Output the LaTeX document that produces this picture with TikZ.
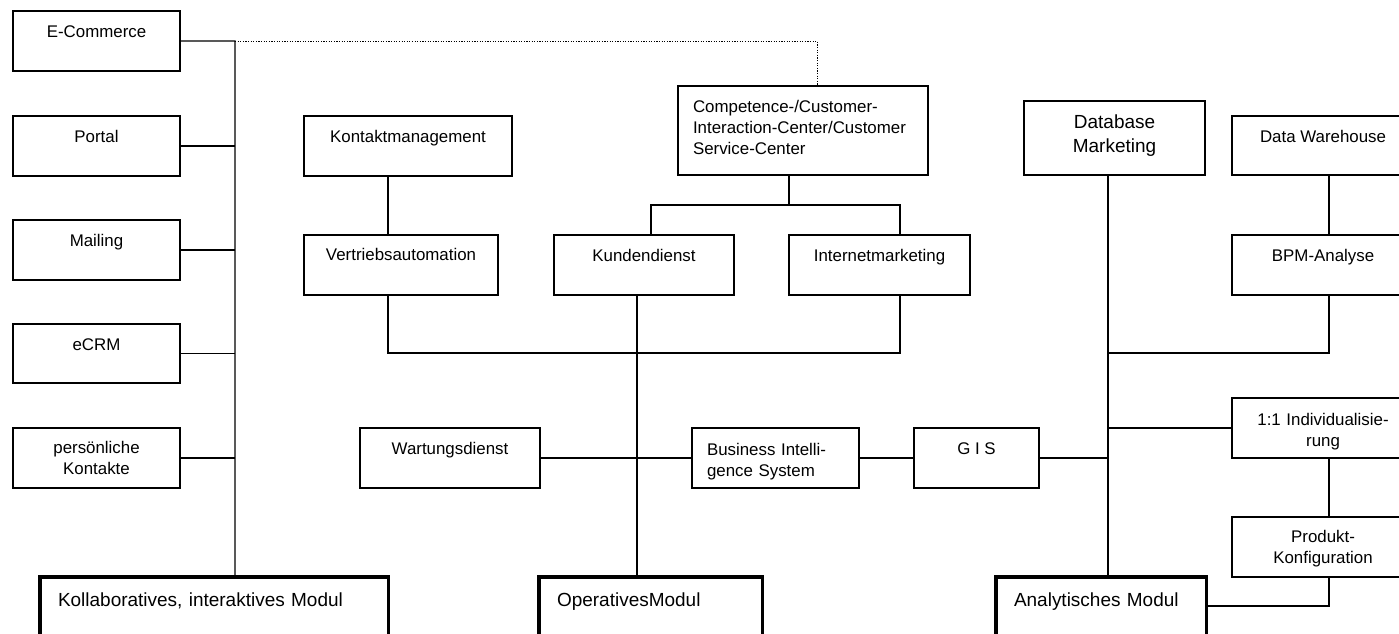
\documentclass[tikz,border=0pt]{standalone}
\usepackage{fontspec}
\setmainfont{Liberation Sans}
\usepackage{tikz}

\begin{document}
\begin{tikzpicture}[
    x=0.025cm, y=-0.025cm,
    box/.style={draw, line width=0.85pt, outer sep=0pt, inner xsep=0pt, inner ysep=0pt, anchor=north west,
        align=center, font=\fontsize{12}{15}\selectfont, text height=18.5pt, text depth=24.2pt},
    modul/.style={draw, line width=2.2pt, outer sep=0pt, inner xsep=0.45cm, inner ysep=0pt, anchor=north west,
        align=left, font=\fontsize{13.5}{17}\selectfont, text height=21.3pt, text depth=42.7pt},
    link/.style={line width=0.85pt}
]
    \useasboundingbox (0,0) rectangle (1399,633);
    \clip (0,0) rectangle (1399,633);

    % Left column
    \node[box, minimum width=4.175cm] (ecom) at (13,11) {E-Commerce};
    \node[box, minimum width=4.175cm] (portal) at (13,116) {Portal};
    \node[box, minimum width=4.175cm] (mailing) at (13,220) {Mailing};
    \node[box, minimum width=4.175cm, text depth=23.5pt] (ecrm) at (13,324) {eCRM};
    \node[box, text width=4.175cm, text height=17.8pt, text depth=24.9pt] (perskont) at (13,428) {persönliche\\Kontakte};

    % Middle part
    \node[box, minimum width=5.2cm] (kontakt) at (304,116) {Kontaktmanagement};
    \node[box, minimum width=4.85cm, text height=17.8pt, text depth=24.9pt] (vertrieb) at (304,235) {Vertriebsautomation};
    \node[box, align=left, inner xsep=0.375cm, text width=5.5cm, text depth=44.8pt] (ccc) at (678,86)
        {Competence-/Customer-\\Interaction-Center/Customer\\Service-Center};
    \node[box, minimum width=4.5cm] (kunden) at (554,235) {Kundendienst};
    \node[box, minimum width=4.525cm] (internet) at (789,235) {Internetmarketing};

    % Middle row
    \node[box, minimum width=4.5cm] (wartung) at (360,428) {Wartungsdienst};
    \node[box, align=left, inner xsep=0.375cm, text width=3.425cm, text height=19.2pt, text depth=23.5pt] (bis) at (692,428)
        {Business Intelli-\\gence System};
    \node[box, minimum width=3.125cm] (gis) at (914,428) {G I S};

    % Right part
    \node[box, text width=4.525cm, font=\fontsize{13.5}{17}\selectfont, text height=19.9pt, text depth=32.7pt] (dbm) at (1024,101) {Database\\Marketing};
    \node[box, minimum width=4.55cm, text depth=23.5pt] (dwh) at (1232,116) {Data Warehouse};
    \node[box, minimum width=4.55cm] (bpm) at (1232,235) {BPM-Analyse};
    \node[box, text width=4.55cm, text height=19.2pt, text depth=23.5pt] (indiv) at (1232,398) {1:1 Individualisie-\\rung};
    \node[box, text width=4.55cm, text height=17.8pt, text depth=24.9pt] (produkt) at (1232,517) {Produkt-\\Konfiguration};

    % Modules
    \node[modul, text width=7.8cm] (kollab) at (40,577) {Kollaboratives, interaktives Modul};
    \node[modul, text width=4.675cm] (operativ) at (539,577) {OperativesModul};
    \node[modul, text width=4.35cm] (analyt) at (996,577) {Analytisches Modul};

    % Junctions
    \coordinate (ltop) at (235,41);
    \coordinate (dtop) at (817,41);
    \coordinate (kv) at (388,353);
    \coordinate (iv) at (900,353);
    \coordinate (kd) at (651,205);
    \coordinate (cc) at (789,205);
    \coordinate (ot) at (637,353);
    \coordinate (rt) at (1108,353);
    \coordinate (rb) at (1329,353);
    \coordinate (pk) at (1329,606);

    % Left links
    \draw[link] (ecom.east) -- (ltop) -- (ltop |- kollab.north);
    \draw[link] (portal.east) -- (portal.east -| ltop);
    \draw[link] (mailing.east) -- (mailing.east -| ltop);
    \draw[link] (ecrm.east) -- (ecrm.east -| ltop);
    \draw[link] (perskont.east) -- (perskont.east -| ltop);
    \draw[link, densely dotted, line width=0.6pt] (ltop) -- (dtop) -- (dtop |- ccc.north);

    % Middle links
    \draw[link] (kontakt.south -| kv) -- (vertrieb.north -| kv);
    \draw[link] (vertrieb.south -| kv) -- (kv) -- (iv) -- (iv |- internet.south);
    \draw[link] (ccc.south -| cc) -- (cc);
    \draw[link] (kd |- kunden.north) -- (kd) -- (kd -| iv) -- (iv |- internet.north);
    \draw[link] (kunden.south -| ot) -- (ot |- operativ.north);
    \draw[link] (wartung) -- (bis);
    \draw[link] (bis) -- (gis);

    % Right links
    \draw[link] (gis.east) -- (gis.east -| rt);
    \draw[link] (dbm.south -| rt) -- (rt |- analyt.north);
    \draw[link] (dwh.south -| rb) -- (bpm.north -| rb);
    \draw[link] (bpm.south -| rb) -- (rb) -- (rt);
    \draw[link] (indiv.west) -- (indiv.west -| rt);
    \draw[link] (indiv.south -| rb) -- (produkt.north -| rb);
    \draw[link] (produkt.south -| pk) -- (pk) -- (pk -| analyt.east);
\end{tikzpicture}
\end{document}
